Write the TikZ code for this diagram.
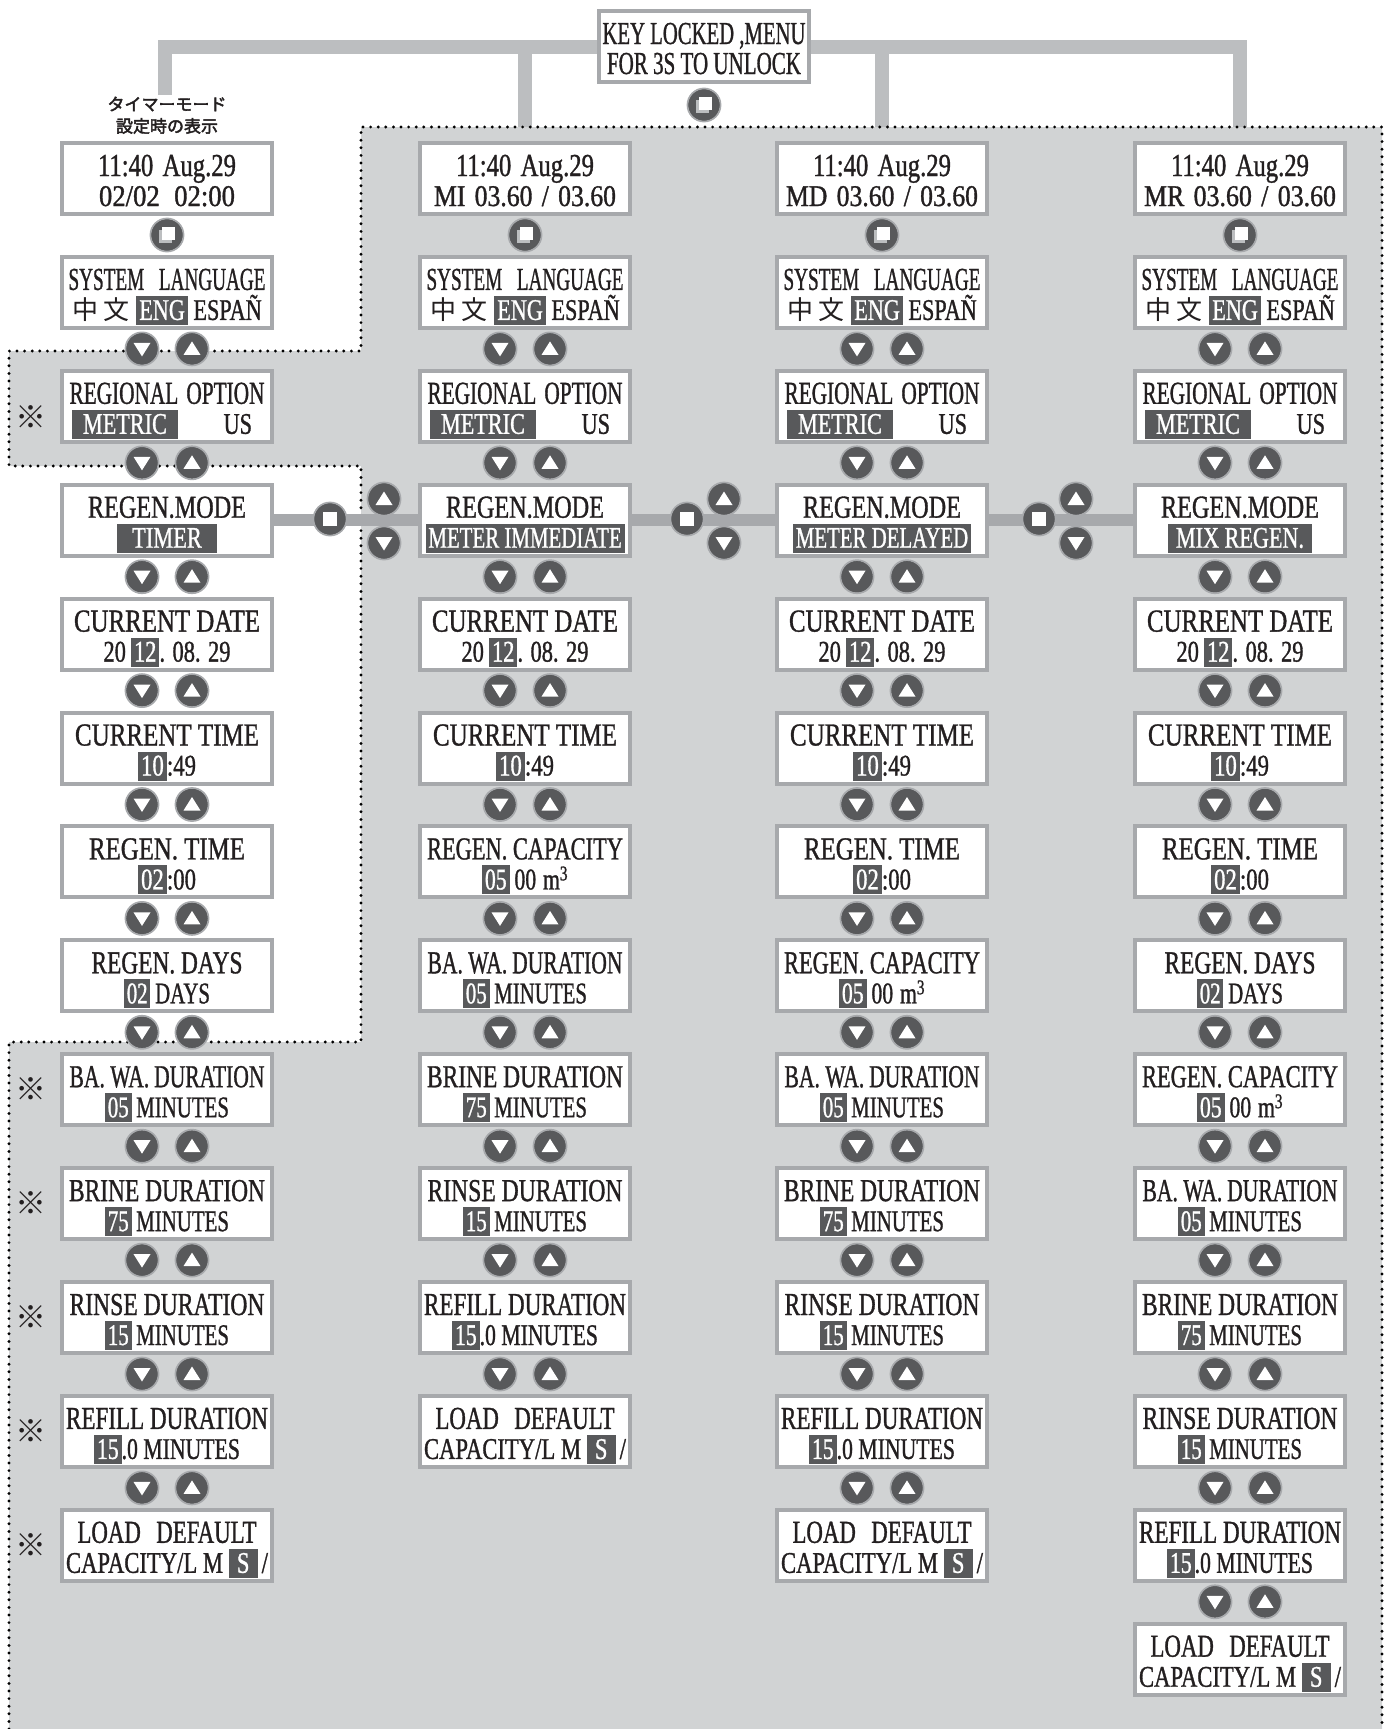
\documentclass[tikz,border=0pt]{standalone}
\usepackage{fontspec}
\setmainfont{Liberation Serif}[FakeStretch=0.74,FakeBold=1.0]
\newfontfamily\jp{Noto Sans CJK JP}
\newfontfamily\jpb{Noto Sans CJK JP}[FakeBold=2.5]
\definecolor{bordergray}{HTML}{A7A9AC}
\definecolor{bargray}{HTML}{BCBEC0}
\definecolor{bggray}{HTML}{D1D3D4}
\definecolor{btn}{HTML}{58595B}
\definecolor{ink}{HTML}{231F20}
\newcommand\hl[1]{{\setlength\fboxsep{0pt}\colorbox{btn}{\hspace{3pt}\textcolor{white}{\rule[-5pt]{0pt}{29pt}#1}\hspace{3pt}}}}
\newcommand\fw[2]{\resizebox{#1pt}{\height}{#2}}
% texts
\newcommand\tTime{\fw{138}{11:40\hspace{9pt}Aug.29}}
\newcommand\tSys{\fw{197}{SYSTEM\hspace{18pt}LANGUAGE}}
\newcommand\tLang{{\jp\fontsize{26}{28}\selectfont 中\hspace{5pt}文}\hspace{7pt}\hl{ENG} ESPAÑ}
\newcommand\tReg{\fw{195}{REGIONAL\hspace{9pt}OPTION}}
\newcommand\tRegB{\makebox[190pt]{\hl{\hspace{8pt}METRIC\hspace{8pt}}\hfill US\hspace{10pt}}}
\newcommand\tMode{\fw{158}{REGEN.MODE}}
\newcommand\tDate{\fw{186}{CURRENT DATE}}
\newcommand\tDateB{\fw{127}{20\,\hl{12}. 08. 29}}
\newcommand\tCTime{\fw{184}{CURRENT TIME}}
\newcommand\tCTimeB{\fw{58}{\hl{10}:49}}
\newcommand\tRTime{\fw{156}{REGEN. TIME}}
\newcommand\tRTimeB{\fw{58}{\hl{02}:00}}
\newcommand\tDays{\fw{151}{REGEN. DAYS}}
\newcommand\tDaysB{\fw{86}{\hl{02}\,DAYS}}
\newcommand\tCap{\fw{196}{REGEN. CAPACITY}}
\newcommand\tCapB{\fw{86}{\hl{05}\,00\hspace{7pt}m\textsuperscript{3}}}
\newcommand\tBw{\fw{195}{BA. WA.\,DURATION}}
\newcommand\tMin[1]{\fw{124}{\hl{#1}\,MINUTES}}
\newcommand\tBr{\fw{196}{BRINE DURATION}}
\newcommand\tRi{\fw{195}{RINSE DURATION}}
\newcommand\tRe{\fw{202}{REFILL DURATION}}
\newcommand\tReB{\fw{146}{\hl{15}.0 MINUTES}}
\newcommand\tLd{\fw{179}{LOAD\hspace{16pt}DEFAULT}}
\newcommand\tLdB{\fw{202}{CAPACITY/L M \hl{\hspace{5pt}S\hspace{5pt}}\hspace{4pt}/}}
\tikzset{
  lcdbox/.style={draw=bordergray, line width=4pt, fill=white, minimum width=210pt, minimum height=71pt, inner sep=0pt},
  lcdtxta/.style={anchor=base, inner sep=0pt, text=ink, font=\fontsize{32}{36}\selectfont},
  lcdtxtb/.style={anchor=base, inner sep=0pt, text=ink, font=\fontsize{30}{34}\selectfont},
  topbar/.style={draw=bargray, line width=14pt},
  midbar/.style={draw=bordergray, line width=12pt},
  dotline/.style={draw=black, line width=3.2pt, dash pattern=on 0pt off 7.6pt, line cap=round},
  refmark/.style={inner sep=0pt, text=ink, font=\jp\fontsize{31}{31}\selectfont},
  jplabel/.style={inner sep=0pt, text=ink, font=\jpb\fontsize{17}{18}\selectfont},
  btnbase/.pic={\fill[btn] (0,0) circle (16pt); \draw[bordergray,line width=1.6pt] (0,0) circle (16.6pt);},
  btndown/.pic={\pic{btnbase}; \fill[white] (-8.5,-6) -- (8.5,-6) -- (0,7.5) -- cycle;},
  btnup/.pic={\pic{btnbase}; \fill[white] (-8.5,6) -- (8.5,6) -- (0,-7.5) -- cycle;},
  btnmenu/.pic={\pic{btnbase}; \fill[bargray] (-8,-5) rectangle (5,8); \fill[white] (-5,-8) rectangle (8,5);},
  btnsq/.pic={\pic{btnbase}; \fill[white] (-7,-7) rectangle (7,7);},
}
\newcommand\lcd[5]{%
  \node[lcdbox] (#1) at (#2,{141+113.9*#3+37.5}) {};
  \node[lcdtxta] at (#2,{141+113.9*#3+35}) {#4};
  \node[lcdtxtb] at (#2,{141+113.9*#3+65}) {#5};
}
\newcommand\pair[2]{%
  \pic at ({#1-25},{141+113.9*#2+94}) {btndown};
  \pic at ({#1+25},{141+113.9*#2+94}) {btnup};
}
\newcommand\refm[2]{\node[refmark] at (31,{141+113.9*#1+#2}) {※};}
\begin{document}
\begin{tikzpicture}[x=1pt,y=-1pt]
\useasboundingbox (0,0) rectangle (1391,1729);
% grey region
\fill[bggray] (361,127) -- (1382,127) -- (1382,1729) -- (9,1729) -- (9,1042) -- (361,1042) -- (361,466) -- (9,466) -- (9,351) -- (361,351) -- cycle;
% top bars
\coordinate (t1) at (165,95);
\coordinate (j1) at (165,47);
\coordinate (j2) at (525,47);
\coordinate (j3) at (882,47);
\coordinate (j4) at (1240,47);
\coordinate (b2) at (525,127);
\coordinate (b3) at (882,127);
\coordinate (b4) at (1240,127);
\draw[topbar] (t1) -- (j1) -- (j4) -- (b4);
\draw[topbar] (j2) -- (b2);
\draw[topbar] (j3) -- (b3);
% dotted border
\draw[dotline] (9,1729) -- (9,1042) -- (361,1042) -- (361,466) -- (9,466) -- (9,351) -- (361,351) -- (361,127) -- (1382,127) -- (1382,1729);
% key box
\node[lcdbox] (key) at (704,46) {};
\node[lcdtxta] at (704,44) {\fw{203}{KEY LOCKED ,MENU}};
\node[lcdtxta] at (704,74) {\fw{194}{FOR 3S TO UNLOCK}};
\pic at (704,105) {btnmenu};
\node[jplabel] (jp1) at (167,104) {タイマーモード};
\node[jplabel] (jp2) at (167,126) {設定時の表示};
% ---------- column 1 ----------
\lcd{aa}{167}{0}{\tTime}{\fw{136}{02/02\hspace{12pt}02:00}}
\lcd{ab}{167}{1}{\tSys}{\tLang}
\lcd{ac}{167}{2}{\tReg}{\tRegB}
\lcd{ad}{167}{3}{\tMode}{\fw{100}{\hl{\hspace{12pt}TIMER\hspace{12pt}}}}
\lcd{ae}{167}{4}{\tDate}{\tDateB}
\lcd{af}{167}{5}{\tCTime}{\tCTimeB}
\lcd{ag}{167}{6}{\tRTime}{\tRTimeB}
\lcd{ah}{167}{7}{\tDays}{\tDaysB}
\lcd{ai}{167}{8}{\tBw}{\tMin{05}}
\lcd{aj}{167}{9}{\tBr}{\tMin{75}}
\lcd{ak}{167}{10}{\tRi}{\tMin{15}}
\lcd{al}{167}{11}{\tRe}{\tReB}
\lcd{am}{167}{12}{\tLd}{\tLdB}
\pic at (167,235) {btnmenu};
\foreach \r in {1,...,11} {\pair{167}{\r}}
\refm{2}{48}
\foreach \r in {8,...,12} {\refm{\r}{37}}
% ---------- column 2 ----------
\lcd{ba}{525}{0}{\tTime}{\fw{182}{MI\hspace{8pt}03.60\hspace{8pt}/\hspace{8pt}03.60}}
\lcd{bb}{525}{1}{\tSys}{\tLang}
\lcd{bc}{525}{2}{\tReg}{\tRegB}
\lcd{bd}{525}{3}{\tMode}{\fw{199}{\hl{METER IMMEDIATE}}}
\lcd{be}{525}{4}{\tDate}{\tDateB}
\lcd{bf}{525}{5}{\tCTime}{\tCTimeB}
\lcd{bg}{525}{6}{\tCap}{\tCapB}
\lcd{bh}{525}{7}{\tBw}{\tMin{05}}
\lcd{bi}{525}{8}{\tBr}{\tMin{75}}
\lcd{bj}{525}{9}{\tRi}{\tMin{15}}
\lcd{bk}{525}{10}{\tRe}{\tReB}
\lcd{bl}{525}{11}{\tLd}{\tLdB}
\pic at (525,235) {btnmenu};
\foreach \r in {1,...,10} {\pair{525}{\r}}
% ---------- column 3 ----------
\lcd{ca}{882}{0}{\tTime}{\fw{192}{MD\hspace{8pt}03.60\hspace{8pt}/\hspace{8pt}03.60}}
\lcd{cb}{882}{1}{\tSys}{\tLang}
\lcd{cc}{882}{2}{\tReg}{\tRegB}
\lcd{cd}{882}{3}{\tMode}{\fw{178}{\hl{METER DELAYED}}}
\lcd{ce}{882}{4}{\tDate}{\tDateB}
\lcd{cf}{882}{5}{\tCTime}{\tCTimeB}
\lcd{cg}{882}{6}{\tRTime}{\tRTimeB}
\lcd{ch}{882}{7}{\tCap}{\tCapB}
\lcd{ci}{882}{8}{\tBw}{\tMin{05}}
\lcd{cj}{882}{9}{\tBr}{\tMin{75}}
\lcd{ck}{882}{10}{\tRi}{\tMin{15}}
\lcd{cl}{882}{11}{\tRe}{\tReB}
\lcd{cm}{882}{12}{\tLd}{\tLdB}
\pic at (882,235) {btnmenu};
\foreach \r in {1,...,11} {\pair{882}{\r}}
% ---------- column 4 ----------
\lcd{da}{1240}{0}{\tTime}{\fw{192}{MR\hspace{8pt}03.60\hspace{8pt}/\hspace{8pt}03.60}}
\lcd{db}{1240}{1}{\tSys}{\tLang}
\lcd{dc}{1240}{2}{\tReg}{\tRegB}
\lcd{dd}{1240}{3}{\tMode}{\fw{144}{\hl{\hspace{5pt}MIX REGEN.\hspace{5pt}}}}
\lcd{de}{1240}{4}{\tDate}{\tDateB}
\lcd{df}{1240}{5}{\tCTime}{\tCTimeB}
\lcd{dg}{1240}{6}{\tRTime}{\tRTimeB}
\lcd{dh}{1240}{7}{\tDays}{\tDaysB}
\lcd{di}{1240}{8}{\tCap}{\tCapB}
\lcd{dj}{1240}{9}{\tBw}{\tMin{05}}
\lcd{dk}{1240}{10}{\tBr}{\tMin{75}}
\lcd{dl}{1240}{11}{\tRi}{\tMin{15}}
\lcd{dm}{1240}{12}{\tRe}{\tReB}
\lcd{dn}{1240}{13}{\tLd}{\tLdB}
\pic at (1240,235) {btnmenu};
\foreach \r in {1,...,12} {\pair{1240}{\r}}
% ---------- mode connectors ----------
\draw[midbar] (ad.east) -- (bd.west);
\draw[midbar] (bd.east) -- (cd.west);
\draw[midbar] (cd.east) -- (dd.west);
\pic at (330,519) {btnsq};
\pic at (384,499) {btnup};
\pic at (384,543) {btndown};
\pic at (687,519) {btnsq};
\pic at (724,499) {btnup};
\pic at (724,543) {btndown};
\pic at (1039,519) {btnsq};
\pic at (1076,499) {btnup};
\pic at (1076,543) {btndown};
\end{tikzpicture}
\end{document}
